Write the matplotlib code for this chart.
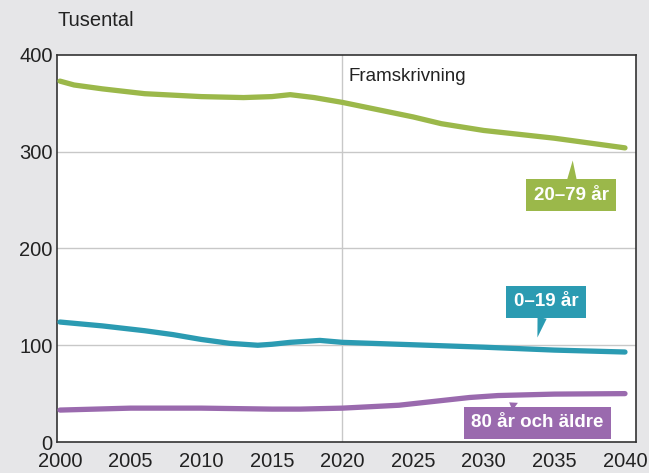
import matplotlib
matplotlib.use("Agg")
import matplotlib.pyplot as plt

plt.rcParams['font.family'] = ['Liberation Sans', 'DejaVu Sans']

years_a = [2000, 2001, 2003, 2006, 2010, 2013, 2015, 2016.3, 2018, 2020, 2025, 2027, 2030, 2035, 2040]
age_20_79 = [373, 369, 365, 360, 357, 356, 357, 359, 356, 351, 336, 329, 322, 314, 304]

years_b = [2000, 2003, 2006, 2008, 2010, 2012, 2014, 2015, 2016.3, 2018.4, 2020, 2024, 2030, 2035, 2040]
age_0_19 = [124, 120, 115, 111, 106, 102, 100, 101, 103, 105, 103, 101, 98, 95, 93]

years_c = [2000, 2005, 2010, 2015, 2017, 2020, 2024, 2029, 2031, 2035, 2040]
age_80 = [33, 35, 35, 34, 34, 35, 38, 46, 48, 49.5, 50]

xticks = [2000, 2005, 2010, 2015, 2020, 2025, 2030, 2035, 2040]
yticks = [0, 100, 200, 300, 400]

green = '#9bb84a'
teal = '#2b9bb2'
purple = '#9a6aae'
bg = '#e6e6e8'

fig = plt.figure(figsize=(6.49, 4.73), dpi=100, facecolor=bg)
ax = fig.add_axes([57/649, 1-442/473, (636-57)/649, (442-55)/473])
ax.set_facecolor('white')

ax.set_xlim(1999.79, 2040.78)
ax.set_ylim(0, 400)

for y in [100, 200, 300]:
    ax.axhline(y, color='#c8c8c8', lw=1, zorder=1)
ax.axvline(2020, color='#c8c8c8', lw=1, zorder=1)

lw = 3.8
ax.plot(years_a, age_20_79, color=green, lw=lw, solid_capstyle='round', solid_joinstyle='round', zorder=3)
ax.plot(years_b, age_0_19, color=teal, lw=lw, solid_capstyle='round', solid_joinstyle='round', zorder=3)
ax.plot(years_c, age_80, color=purple, lw=lw, solid_capstyle='round', solid_joinstyle='round', zorder=3)

ax.set_xticks(xticks)
ax.set_yticks(yticks)
ax.tick_params(length=0, labelsize=14.5, colors='#222222', pad=3)
ax.tick_params(axis='x', pad=7)
for s in ax.spines.values():
    s.set_color('#333333')
    s.set_linewidth(1.2)

ax.text(2020.4, 378, 'Framskrivning', fontsize=13.5, color='#222222', va='center', ha='left')
fig.text(57/649, 1-20/473, 'Tusental', fontsize=14.5, color='#222222', va='center', ha='left')

def label(txt, color, xy, xytext):
    ax.annotate(txt, xy=xy, xytext=xytext, textcoords='data',
                fontsize=13.5, fontweight='bold', color='white', ha='center', va='center',
                bbox=dict(boxstyle='square,pad=0.4', fc=color, ec='none'),
                arrowprops=dict(arrowstyle='wedge,tail_width=0.5,shrink_factor=0.5',
                                fc=color, ec='none', shrinkA=0, shrinkB=0),
                zorder=5)

label('20–79 år', green, (2036.3, 291), (2036.2, 255))
label('0–19 år', teal, (2033.8, 108), (2034.4, 145))
label('80 år och äldre', purple, (2031.8, 41), (2033.8, 20))

fig.savefig('out.png', dpi=100, facecolor=bg)
